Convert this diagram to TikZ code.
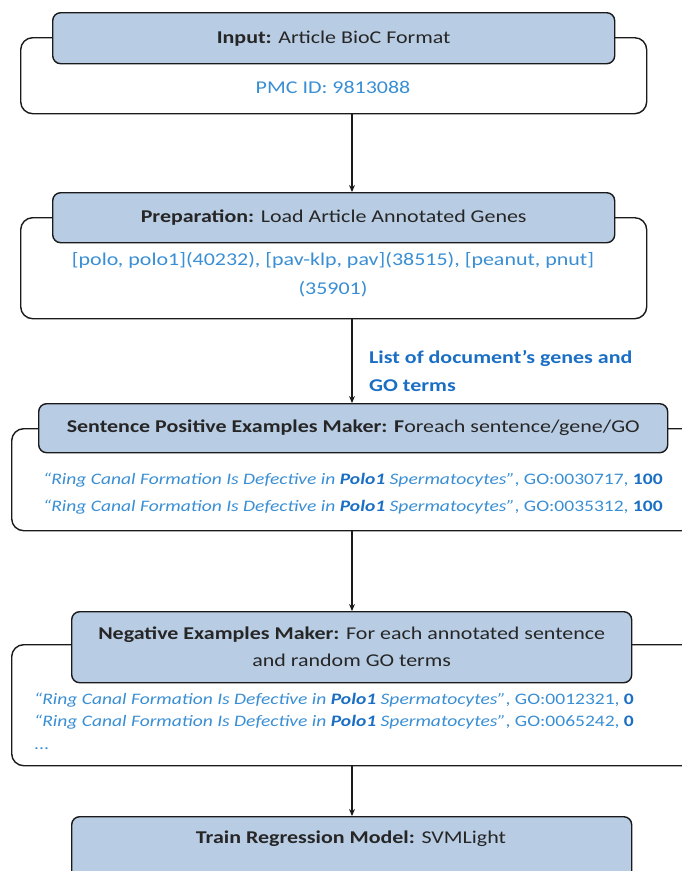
\documentclass[tikz,border=0pt]{standalone}
\usepackage{fontspec}
\setmainfont{Carlito}[FakeStretch=1.22]
\usetikzlibrary{arrows.meta}

\definecolor{hdrfill}{HTML}{B8CCE4}
\definecolor{txtblue}{HTML}{3A8FD4}
\definecolor{deepblue}{HTML}{1A6FC4}
\definecolor{edgeclr}{HTML}{1A1A1A}

\newcommand{\hl}[1]{\textbf{\color{deepblue}#1}}
\newcommand{\ringsent}{\textit{“Ring Canal Formation Is Defective in \hl{Polo1} Spermatocytes”}}

\tikzset{
  bodybox/.style={draw=edgeclr, line width=1.4pt, fill=white, rounded corners=12pt,
    anchor=north west, inner sep=0pt},
  hdrbox/.style={draw=edgeclr, line width=1.4pt, fill=hdrfill, rounded corners=8pt,
    anchor=north west, inner sep=0pt, align=center,
    font=\fontsize{18}{27}\selectfont, text=black!85},
  plain/.style={font=\fontsize{18}{22}\selectfont, inner sep=0pt, text=black!85},
  bluetxt/.style={font=\fontsize{18}{22}\selectfont, inner sep=0pt, text=txtblue},
  sentline/.style={font=\fontsize{16}{20}\selectfont, inner sep=0pt, text=txtblue,
    anchor=base west},
  arr/.style={draw=edgeclr, line width=1.2pt, -{Stealth[length=7pt,width=6pt]}},
}

\begin{document}
\begin{tikzpicture}[x=1pt, y=-1pt]
  \useasboundingbox (0,0) rectangle (682,871);
  \coordinate (ax) at (352,0);

  % Stage 1: input
  \node[bodybox, minimum width=626pt, minimum height=76pt] (b1) at (20,37) {};
  \node[hdrbox, minimum width=562pt, minimum height=51pt] (h1) at (52,12)
    {\textbf{Input:} Article BioC Format};
  \node[bluetxt] (t1) at (333,87) {PMC ID: 9813088};

  % Stage 2: preparation
  \node[bodybox, minimum width=626pt, minimum height=101pt] (b2) at (20,217) {};
  \node[hdrbox, minimum width=562pt, minimum height=50pt] (h2) at (52,192)
    {\textbf{Preparation:} Load Article Annotated Genes};
  \node[bluetxt, align=center, font=\fontsize{18}{29}\selectfont, anchor=north] (t2) at (333,252)
    {[polo, polo1](40232), [pav-klp, pav](38515), [peanut, pnut]\\(35901)};

  % Stage 3: positive examples
  \node[bodybox, minimum width=682pt, minimum height=102pt] (b3) at (11,428) {};
  \node[hdrbox, minimum width=629pt, minimum height=49pt] (h3) at (38,403)
    {\textbf{Sentence Positive Examples Maker: F}oreach sentence/gene/GO};
  \node[sentline] (t3a) at (43,484) {\ringsent, GO:0030717, \hl{100}};
  \node[sentline] (t3b) at (43,511) {\ringsent, GO:0035312, \hl{100}};

  % Stage 4: negative examples
  \node[bodybox, minimum width=682pt, minimum height=121pt] (b4) at (11,644) {};
  \node[hdrbox, minimum width=560pt, minimum height=71pt] (h4) at (71,611)
    {\textbf{Negative Examples Maker:} For each annotated sentence\\and random GO terms};
  \node[sentline] (t4a) at (34,704) {\ringsent, GO:0012321, \hl{0}};
  \node[sentline] (t4b) at (34,726) {\ringsent, GO:0065242, \hl{0}};
  \node[sentline] (t4c) at (34,749) {...};

  % Stage 5: training
  \node[hdrbox, minimum width=560pt, minimum height=100pt] (h5) at (71,816) {};
  \node[plain] (t5) at (351,839) {\textbf{Train Regression Model:} SVMLight};

  % Flow between stages
  \draw[arr] (b1.south -| ax) -- (h2.north -| ax);
  \draw[arr] (b2.south -| ax) -- (h3.north -| ax);
  \draw[arr] (b3.south -| ax) -- (h4.north -| ax);
  \draw[arr] (b4.south -| ax) -- (h5.north -| ax);

  \node[font=\bfseries\fontsize{18}{28}\selectfont, text=deepblue, align=left,
        anchor=west, inner sep=0pt] (lab) at (369,371)
    {List of document’s genes and\\GO terms};
\end{tikzpicture}
\end{document}
